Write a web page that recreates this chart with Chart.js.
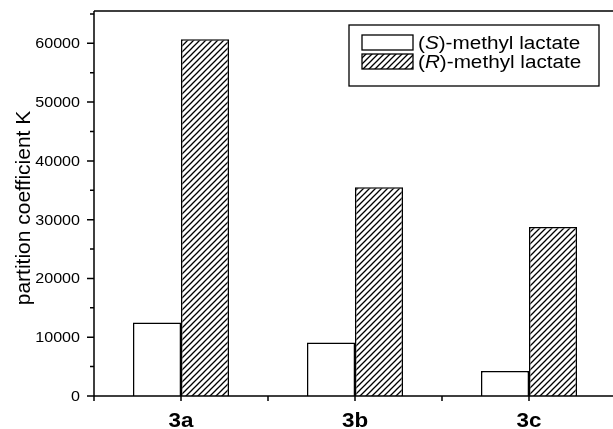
<!DOCTYPE html>
<html>
<head>
<meta charset="utf-8">
<script src="https://cdn.jsdelivr.net/npm/chart.js@4.4.0/dist/chart.umd.min.js"></script>
<style>
    html, body { margin: 0; padding: 0; background: #fff; overflow: hidden; }
    #wrap { width: 620px; height: 429px; }
</style>
</head>
<body>
<div id="wrap"><canvas id="popChart"></canvas></div>
<script>
// datos
var categorias = ["3a", "3b", "3c"];
var valoresS = [12500, 9100, 4250];
var valoresR = [60700, 35500, 28750];
var ticksY = [0, 10000, 20000, 30000, 40000, 50000, 60000];
var leyendaS = ["(", "S", ")-methyl lactate"];
var leyendaR = ["(", "R", ")-methyl lactate"];
var tituloY = "partition coefficient K";

var fuente = "'Liberation Sans', Arial, sans-serif";

function hacerRayado() {
    var c = document.createElement("canvas");
    c.width = 6;
    c.height = 6;
    var g = c.getContext("2d");
    g.fillStyle = "#fff";
    g.fillRect(0, 0, 6, 6);
    g.strokeStyle = "#000";
    g.lineWidth = 1.3;
    g.beginPath();
    g.moveTo(0, 6); g.lineTo(6, 0);
    g.moveTo(-1, 1); g.lineTo(1, -1);
    g.moveTo(5, 7); g.lineTo(7, 5);
    g.stroke();
    return c;
}

var ctx0 = document.getElementById("popChart").getContext("2d");
var rayado = ctx0.createPattern(hacerRayado(), "repeat");

// texto con estiramiento horizontal (el original esta algo ancho)
function textoAncho(ctx, partes, x, y, size, escala) {
    ctx.save();
    ctx.translate(x, y);
    ctx.scale(escala, 1);
    var px = 0;
    partes.forEach(function (p, i) {
        ctx.font = (i === 1 ? "italic " : "") + size + "px " + fuente;
        ctx.fillText(p, px, 0);
        px += ctx.measureText(p).width;
    });
    ctx.restore();
}

var ejes = {
    id: "ejes",
    afterDraw: function (chart) {
        var ctx = chart.ctx;
        var a = chart.chartArea;
        var x = chart.scales.x;
        var y = chart.scales.y;
        ctx.save();
        ctx.strokeStyle = "#000";
        ctx.lineWidth = 1.5;
        ctx.beginPath();
        ctx.moveTo(a.left, a.top); ctx.lineTo(a.right, a.top);
        ctx.moveTo(a.left, a.top); ctx.lineTo(a.left, a.bottom);
        ctx.moveTo(a.left, a.bottom); ctx.lineTo(a.right, a.bottom);
        for (var v = 0; v <= y.max; v += 5000) {
            var py = y.getPixelForValue(v);
            var len = v % 10000 === 0 ? 7 : 4;
            ctx.moveTo(a.left - len, py); ctx.lineTo(a.left, py);
        }
        for (var i = 0; i <= categorias.length * 2; i++) {
            var px = x.getPixelForValue(i / 2 - 0.5);
            ctx.moveTo(px, a.bottom); ctx.lineTo(px, a.bottom + 5);
        }
        ctx.stroke();

        // etiquetas eje y
        ctx.fillStyle = "#000";
        ctx.textBaseline = "alphabetic";
        ticksY.forEach(function (t) {
            var s = String(t);
            ctx.font = "14px " + fuente;
            var w = ctx.measureText(s).width * 1.15;
            textoAncho(ctx, [s], 80 - w, y.getPixelForValue(t) + 5, 14, 1.15);
        });

        // etiquetas eje x
        categorias.forEach(function (c, i) {
            ctx.font = "bold 20px " + fuente;
            var w = ctx.measureText(c).width * 1.12;
            ctx.save();
            ctx.translate(x.getPixelForValue(i) - w / 2, 427);
            ctx.scale(1.12, 1);
            ctx.fillText(c, 0, 0);
            ctx.restore();
        });

        // titulo eje y
        ctx.save();
        ctx.translate(30, 208);
        ctx.rotate(-Math.PI / 2);
        ctx.font = "21px " + fuente;
        ctx.textAlign = "center";
        ctx.fillText(tituloY, 0, 0);
        ctx.restore();

        // leyenda
        ctx.lineWidth = 1.3;
        ctx.strokeRect(349, 25, 250, 61);
        ctx.fillStyle = "#fff";
        ctx.fillRect(362, 35, 51, 15);
        ctx.strokeRect(362, 35, 51, 15);
        ctx.fillStyle = rayado;
        ctx.fillRect(362, 54, 51, 15);
        ctx.strokeRect(362, 54, 51, 15);
        ctx.fillStyle = "#000";
        textoAncho(ctx, leyendaS, 418, 49, 18, 1.15);
        textoAncho(ctx, leyendaR, 418, 68, 18, 1.15);
        ctx.restore();
    }
};

var barChart = new Chart(ctx0, {
    type: "bar",
    data: {
        labels: categorias,
        datasets: [{
            label: leyendaS.join(""),
            data: valoresS,
            backgroundColor: "#fff",
            borderColor: "#000",
            borderWidth: 1.5
        }, {
            label: leyendaR.join(""),
            data: valoresR,
            backgroundColor: rayado,
            borderColor: "#000",
            borderWidth: 1.5
        }]
    },
    options: {
        responsive: true,
        maintainAspectRatio: false,
        animation: false,
        categoryPercentage: 96 / 174,
        barPercentage: 1,
        layout: { padding: { top: 11, right: 4, left: 0, bottom: 0 } },
        plugins: { legend: { display: false }, tooltip: { enabled: false } },
        scales: {
            x: {
                grid: { display: false },
                border: { display: false },
                ticks: { display: false },
                afterFit: function (s) { s.height = 33; }
            },
            y: {
                min: 0,
                max: 65500,
                grid: { display: false },
                border: { display: false },
                ticks: { display: false },
                afterFit: function (s) { s.width = 94; }
            }
        }
    },
    plugins: [ejes]
});
</script>
</body>
</html>
